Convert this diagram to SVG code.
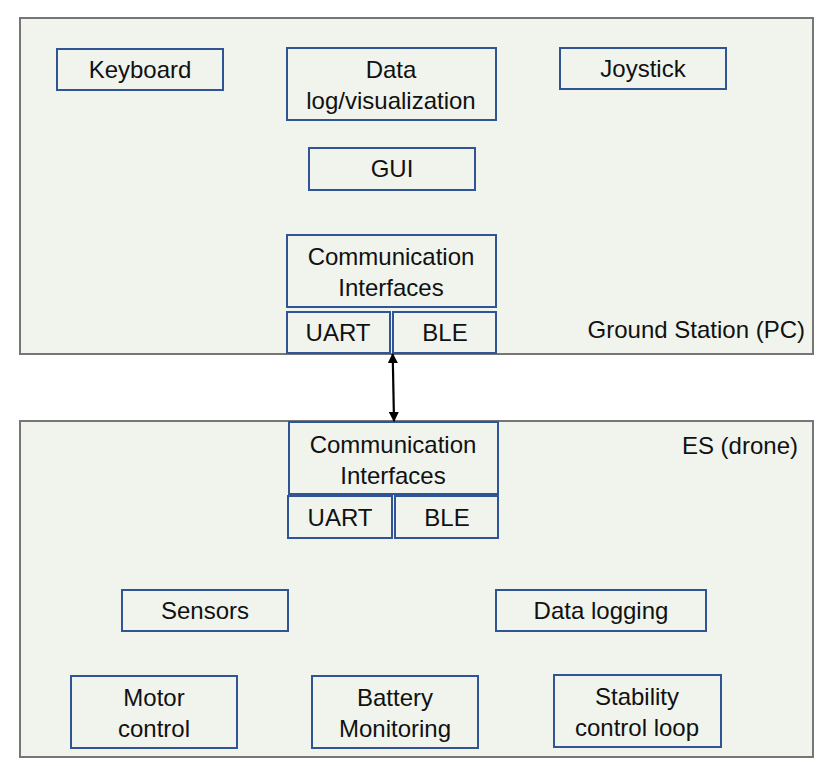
<svg xmlns="http://www.w3.org/2000/svg" width="838" height="766" viewBox="0 0 838 766">
<style>
.panel{fill:#f0f4ed;stroke:#767676;stroke-width:2}
.box{fill:none;stroke:#2f5597;stroke-width:2}
text{font-family:"Liberation Sans","Noto Sans",sans-serif;font-size:24px;fill:#111;text-anchor:middle}
.plabel{text-anchor:end}
</style>
<defs>
<marker id="ah" viewBox="0 0 10 10" refX="9" refY="5" markerWidth="10" markerHeight="10" orient="auto-start-reverse" markerUnits="userSpaceOnUse">
<path d="M0,0 L10,5 L0,10 z" fill="#000"/>
</marker>
</defs>
<rect width="838" height="766" fill="#fff"/>
<g id="ground-station">
<rect class="panel" x="20" y="18" width="793" height="336"/>
<text class="plabel" x="805" y="338">Ground Station (PC)</text>
</g>
<g id="es-drone">
<rect class="panel" x="20" y="421" width="793" height="336"/>
<text class="plabel" x="798" y="454">ES (drone)</text>
</g>
<g id="keyboard"><rect class="box" x="57" y="49" width="166" height="41"/><text x="140" y="78">Keyboard</text></g>
<g id="datalog"><rect class="box" x="287" y="48" width="209" height="72"/><text x="391" y="78">Data</text><text x="391" y="109">log/visualization</text></g>
<g id="joystick"><rect class="box" x="560" y="48" width="166" height="41"/><text x="643" y="77">Joystick</text></g>
<g id="gui"><rect class="box" x="309" y="148" width="166" height="42"/><text x="392" y="177">GUI</text></g>
<g id="comm-top"><rect class="box" x="287" y="235" width="209" height="72"/><text x="391" y="265">Communication</text><text x="391" y="296">Interfaces</text></g>
<g id="uart-top"><rect class="box" x="287" y="312" width="103" height="41"/><text x="338" y="341">UART</text></g>
<g id="ble-top"><rect class="box" x="393" y="312" width="103" height="41"/><text x="445" y="341">BLE</text></g>
<g id="comm-bottom"><rect class="box" x="289" y="422" width="209" height="72"/><text x="393" y="453">Communication</text><text x="393" y="484">Interfaces</text></g>
<g id="uart-bottom"><rect class="box" x="288" y="496" width="104" height="42"/><text x="340" y="526">UART</text></g>
<g id="ble-bottom"><rect class="box" x="395" y="496" width="103" height="42"/><text x="447" y="526">BLE</text></g>
<g id="sensors"><rect class="box" x="122" y="590" width="166" height="41"/><text x="205" y="619">Sensors</text></g>
<g id="datalogging"><rect class="box" x="496" y="590" width="210" height="41"/><text x="601" y="619">Data logging</text></g>
<g id="motor"><rect class="box" x="71" y="676" width="166" height="72"/><text x="154" y="706">Motor</text><text x="154" y="737">control</text></g>
<g id="battery"><rect class="box" x="312" y="676" width="166" height="72"/><text x="395" y="706">Battery</text><text x="395" y="737">Monitoring</text></g>
<g id="stability"><rect class="box" x="554" y="675" width="167" height="72"/><text x="637" y="705">Stability</text><text x="637" y="736">control loop</text></g>
<g id="connectors">
<line x1="392.7" y1="354" x2="394" y2="421" stroke="#000" stroke-width="2.2" marker-start="url(#ah)" marker-end="url(#ah)"/>
</g>
</svg>
